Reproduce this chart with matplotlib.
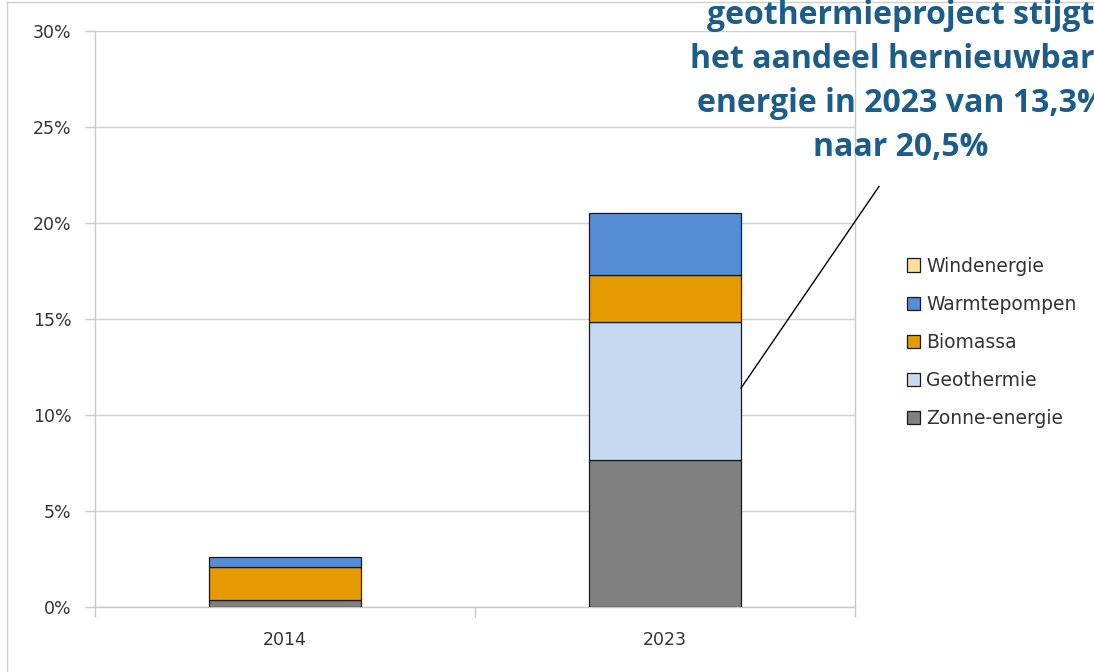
import matplotlib
matplotlib.use("Agg")
import matplotlib.pyplot as plt
from matplotlib.patches import Patch
from matplotlib.lines import Line2D
import numpy as np

categories = ["2014", "2023"]
series = ["Zonne-energie", "Geothermie", "Biomassa", "Warmtepompen", "Windenergie"]
zonne = [0.36, 7.65]
geothermie = [0.0, 7.2]
biomassa = [1.70, 2.45]
warmtepompen = [0.54, 3.2]
windenergie = [0.0, 0.0]
values = [zonne, geothermie, biomassa, warmtepompen, windenergie]
colors = ["#808080", "#C6D9F0", "#E59A00", "#558ED5", "#FFDE9E"]
yticks = [0, 5, 10, 15, 20, 25, 30]
annotation = "geothermieproject stijgt\nhet aandeel hernieuwbare\nenergie in 2023 van 13,3%\nnaar 20,5%"

W, H = 1094, 672
fig = plt.figure(figsize=(W / 100, H / 100), dpi=100)
ax = fig.add_axes([95 / W, 1 - 607 / H, 760 / W, 576 / H])

x = np.arange(len(categories))
bottom = np.zeros(len(categories))
for vals, col in zip(values, colors):
    v = np.array(vals)
    mask = v > 0
    ax.bar(x[mask], v[mask], width=0.4, bottom=bottom[mask], color=col,
           edgecolor="#1a1a1a", linewidth=0.9, zorder=3)
    bottom += v

ax.set_xlim(-0.5, 1.5)
ax.set_ylim(0, 30)
ax.set_yticks(yticks)
ax.set_yticklabels([f"{t}%" for t in yticks])
ax.set_xticks(x)
ax.set_xticklabels(categories)
ax.set_xticks([-0.5, 0.5, 1.5], minor=True)
ax.tick_params(axis="x", which="major", length=0, pad=17, labelsize=12.5, labelcolor="#333333")
ax.tick_params(axis="x", which="minor", length=7, color="#c8c8c8", width=1)
ax.tick_params(axis="y", length=7, color="#c8c8c8", width=1, pad=10, labelsize=12.5, labelcolor="#333333")
ax.yaxis.grid(True, color="#d0d0d0", linewidth=1, zorder=0)
ax.set_axisbelow(True)
for s in ["left", "bottom", "right"]:
    ax.spines[s].set_color("#c8c8c8")
    ax.spines[s].set_linewidth(1)
ax.spines["top"].set_visible(False)

# legend (reverse order)
handles = [Patch(facecolor=c, edgecolor="#1a1a1a", linewidth=0.9) for c in colors][::-1]
labels = series[::-1]
leg = fig.legend(handles, labels, loc="upper left", bbox_to_anchor=(899 / W, 1 - 249 / H),
                 frameon=False, fontsize=13.5, handlelength=0.7, handleheight=0.7,
                 handletextpad=0.35, labelspacing=1.02, borderaxespad=0)
for t in leg.get_texts():
    t.set_color("#333333")

# annotation line
ax.plot([1.2, 1.563], [11.4, 21.9], color="black", linewidth=1, clip_on=False, zorder=4)

fig.text(901 / W, 1 - 82 / H, annotation, ha="center", va="center", fontsize=23,
         fontweight="bold", color="#1C5C8A", family="Open Sans", linespacing=1.44)

# outer frame
fig.add_artist(Line2D([7 / W, 7 / W], [0, 1 - 2 / H], color="#d0d0d0", linewidth=1))
fig.add_artist(Line2D([7 / W, 1], [1 - 2 / H, 1 - 2 / H], color="#d0d0d0", linewidth=1))

fig.savefig("out.png", dpi=100)
